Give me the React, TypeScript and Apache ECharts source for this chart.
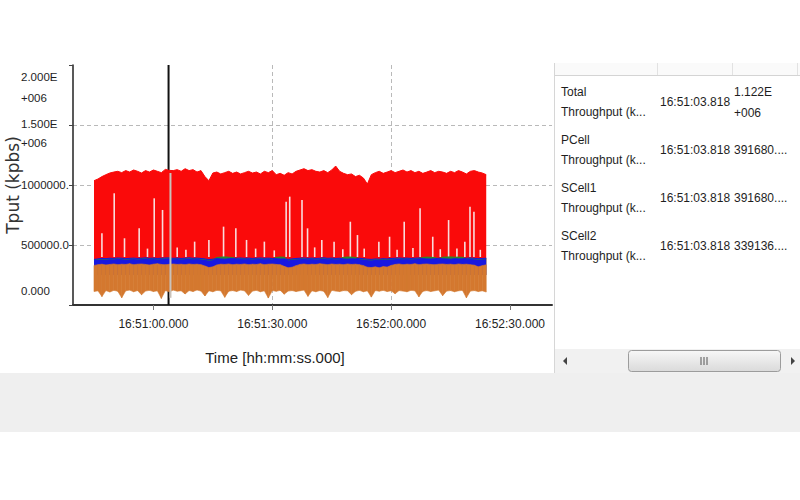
import React, { useEffect, useRef } from "react";
import * as echarts from "echarts";

// ---------- data ----------
const sampleStart = "16:50:45";
const sampleStepSec = 1;

// Total Throughput (kbps / 1000) – red
const totalTputK = [
  1036, 1050, 1070, 1086, 1100, 1108, 1114, 1103, 1120, 1108,
  1125, 1114, 1100, 1120, 1108, 1125, 1114, 1103, 1130, 1122,
  1120, 1128, 1114, 1136, 1120, 1128, 1108, 1120, 1070, 1036,
  1100, 1108, 1092, 1103, 1114, 1097, 1108, 1092, 1103, 1114,
  1100, 1108, 1092, 1114, 1103, 1120, 1086, 1097, 1081, 1103,
  1092, 1114, 1125, 1136, 1120, 1128, 1114, 1108, 1120, 1103,
  1125, 1158, 1114, 1097, 1086, 1092, 1070, 1081, 1058, 1008,
  1086, 1103, 1114, 1097, 1108, 1120, 1103, 1114, 1125, 1108,
  1120, 1103, 1114, 1097, 1108, 1120, 1103, 1114, 1108, 1097,
  1114, 1103, 1120, 1108, 1092, 1114, 1120, 1108, 1100, 1086,
];
// PCell Throughput – blue
const pcellTputK = [
  380, 384, 388, 386, 390, 388, 392, 390, 386, 389,
  391, 388, 390, 393, 389, 391, 388, 390, 392, 392,
  389, 391, 388, 390, 393, 389, 391, 388, 384, 378,
  382, 386, 384, 382, 385, 388, 390, 392, 389, 391,
  388, 390, 392, 389, 391, 388, 386, 383, 384, 380,
  384, 388, 390, 392, 389, 391, 388, 390, 393, 389,
  391, 388, 390, 384, 382, 385, 384, 390, 386, 382,
  380, 384, 382, 386, 384, 388, 390, 392, 389, 391,
  388, 390, 392, 386, 384, 383, 385, 390, 385, 384,
  382, 386, 384, 385, 390, 392, 389, 386, 388, 390,
];
// SCell1 Throughput – green
const scell1TputK = [
  378, 380, 384, 382, 386, 384, 388, 386, 382, 385,
  387, 384, 386, 389, 385, 387, 384, 386, 388, 392,
  385, 387, 384, 386, 389, 385, 387, 384, 380, 374,
  378, 396, 399, 401, 398, 395, 386, 388, 385, 387,
  384, 386, 388, 385, 387, 384, 396, 400, 398, 376,
  380, 384, 386, 388, 385, 387, 384, 386, 389, 385,
  387, 384, 386, 397, 400, 399, 396, 386, 382, 378,
  376, 380, 378, 382, 380, 384, 386, 388, 385, 387,
  384, 386, 388, 396, 399, 398, 395, 386, 398, 400,
  401, 398, 399, 397, 386, 388, 385, 382, 384, 386,
];
// SCell2 Throughput – orange (upper edge and ragged lower edge)
const scell2TputK = [
  330, 336, 340, 334, 338, 342, 336, 340, 338, 344,
  336, 340, 342, 338, 334, 340, 344, 338, 336, 339,
  342, 338, 340, 336, 342, 338, 340, 336, 325, 312,
  318, 334, 340, 338, 342, 336, 340, 338, 342, 336,
  340, 338, 344, 336, 340, 342, 338, 336, 322, 310,
  315, 328, 338, 342, 336, 340, 338, 344, 340, 336,
  342, 338, 340, 336, 342, 338, 340, 336, 328, 315,
  312, 318, 310, 320, 316, 330, 338, 342, 336, 340,
  338, 344, 336, 340, 342, 338, 336, 340, 342, 338,
  340, 336, 342, 338, 340, 336, 332, 318, 328, 335,
];
const scell2LowK = [
  112, 118, 70, 120, 108, 122, 115, 60, 118, 124,
  110, 120, 85, 116, 122, 112, 118, 55, 120, 110,
  124, 115, 118, 92, 120, 112, 125, 116, 75, 118,
  110, 122, 118, 64, 115, 120, 112, 124, 118, 80,
  116, 122, 110, 118, 58, 120, 114, 122, 90, 116,
  120, 112, 118, 124, 72, 118, 110, 120, 115, 62,
  122, 116, 112, 120, 118, 86, 114, 122, 110, 118,
  66, 120, 115, 122, 112, 118, 94, 120, 116, 110,
  122, 118, 68, 114, 120, 112, 118, 124, 78, 116,
  120, 110, 118, 122, 60, 116, 120, 112, 118, 108,
];
// light gaps seen inside the red band: [time, top (k)]
const totalGapsK: [string, number][] = [
  ["16:50:47.0", 598], ["16:50:50.1", 931], ["16:50:52.7", 556], ["16:50:56.4", 639],
  ["16:50:58.5", 470], ["16:51:00.2", 889], ["16:51:02.3", 792], ["16:51:06.0", 480],
  ["16:51:08.2", 460], ["16:51:10.4", 528], ["16:51:14.0", 542], ["16:51:17.7", 653],
  ["16:51:20.8", 639], ["16:51:23.5", 542], ["16:51:25.8", 470], ["16:51:28.0", 528],
  ["16:51:30.5", 455], ["16:51:33.5", 861], ["16:51:34.4", 903], ["16:51:37.5", 875],
  ["16:51:38.9", 639], ["16:51:40.7", 480], ["16:51:42.5", 542], ["16:51:45.6", 528],
  ["16:51:47.8", 465], ["16:51:49.7", 694], ["16:51:51.5", 583], ["16:51:53.2", 470],
  ["16:51:56.9", 528], ["16:51:59.6", 569], ["16:52:01.5", 460], ["16:52:03.3", 694],
  ["16:52:05.5", 475], ["16:52:07.3", 806], ["16:52:10.5", 569], ["16:52:12.4", 465],
  ["16:52:14.5", 708], ["16:52:16.6", 470], ["16:52:18.6", 528], ["16:52:19.9", 819],
  ["16:52:20.9", 778], ["16:52:22.5", 460],
];
const gapBaseK = 400;
const cursorTime = "16:51:03.818";
const cursorSampleK: [string, number, number] = ["16:51:04.300", 60, 1100];

const xMinTime = "16:50:39.700";
const xMaxTime = "16:52:40.600";
const xTickTimes = ["16:51:00.000", "16:51:30.000", "16:52:00.000", "16:52:30.000"];
const yMax = 2000000;
const yInterval = 500000;
const yTickLabels = ["0.000", "500000.0", "1000000.", "1.500E\n+006", "2.000E\n+006"];
const xAxisName = "Time [hh:mm:ss.000]";
const yAxisName = "Tput (kpbs)";

const tableNames = [
  "Total\nThroughput (k...",
  "PCell\nThroughput (k...",
  "SCell1\nThroughput (k...",
  "SCell2\nThroughput (k...",
];
const tableTimes = ["16:51:03.818", "16:51:03.818", "16:51:03.818", "16:51:03.818"];
const tableValues = ["1.122E\n+006", "391680....", "391680....", "339136...."];

// ---------- helpers ----------
const FONT = "'Liberation Sans', Arial, sans-serif";
const K = 1000;

function toMs(t: string): number {
  const [h, m, s] = t.split(":");
  const sec = parseFloat(s);
  const whole = Math.floor(sec);
  const ms = Math.round((sec - whole) * 1000);
  return new Date(2024, 0, 1, +h, +m, whole, ms).getTime();
}
function pad(n: number, w = 2) {
  return String(n).padStart(w, "0");
}
function fmtTime(v: number) {
  const d = new Date(Math.round(v));
  return `${pad(d.getHours())}:${pad(d.getMinutes())}:${pad(d.getSeconds())}.${pad(d.getMilliseconds(), 3)}`;
}

export default function App() {
  const ref = useRef<HTMLDivElement>(null);

  useEffect(() => {
    if (!ref.current) return;
    const chart = echarts.init(ref.current, undefined, { renderer: "svg" });

    const t0 = toMs(sampleStart);
    const times = totalTputK.map((_, i) => t0 + i * sampleStepSec * 1000);
    const red = times.map((t, i) => [t, totalTputK[i] * K]);
    const blue = times.map((t, i) => [t, pcellTputK[i] * K]);
    const green = times.map((t, i) => [t, scell1TputK[i] * K]);
    // orange band segments: [t, low, high, tNext, lowNext, highNext]
    const orange = times.slice(0, -1).map((t, i) => [
      t, scell2LowK[i] * K, scell2TputK[i] * K,
      times[i + 1], scell2LowK[i + 1] * K, scell2TputK[i + 1] * K,
    ]);
    const gaps = totalGapsK.map(([t, top]) => [toMs(t), gapBaseK * K, top * K]);
    const cursor = [[toMs(cursorTime), 0, yMax]];
    const sample = [[toMs(cursorSampleK[0]), cursorSampleK[1] * K, cursorSampleK[2] * K]];
    const xTicks = xTickTimes.map(toMs);

    const vline = (color: string, width: number) => (params: any, api: any) => {
      const a = api.coord([api.value(0), api.value(1)]);
      const b = api.coord([api.value(0), api.value(2)]);
      return {
        type: "line",
        shape: { x1: a[0], y1: a[1], x2: b[0], y2: b[1] },
        style: { stroke: color, lineWidth: width },
      };
    };
    const band = (color: string) => (params: any, api: any) => {
      const p1 = api.coord([api.value(0), api.value(1)]);
      const p2 = api.coord([api.value(0), api.value(2)]);
      const p3 = api.coord([api.value(3), api.value(5)]);
      const p4 = api.coord([api.value(3), api.value(4)]);
      return {
        type: "polygon",
        shape: { points: [p1, p2, p3, p4] },
        style: { fill: color, stroke: color, lineWidth: 0.6 },
      };
    };

    const graphic: any[] = [];
    // grey band under the panels
    graphic.push({ type: "rect", shape: { x: 0, y: 373, width: 800, height: 59 }, style: { fill: "#efefef" }, silent: true });
    // table panel
    graphic.push({ type: "line", shape: { x1: 554.5, y1: 63, x2: 554.5, y2: 373 }, style: { stroke: "#d6d6d6", lineWidth: 1 } });
    graphic.push({ type: "rect", shape: { x: 555, y: 63, width: 245, height: 12 }, style: { fill: "#fafafa" } });
    graphic.push({ type: "line", shape: { x1: 555, y1: 75.5, x2: 800, y2: 75.5 }, style: { stroke: "#d4d4d4", lineWidth: 1 } });
    [657, 732, 797].forEach((x) =>
      graphic.push({ type: "line", shape: { x1: x + 0.5, y1: 63, x2: x + 0.5, y2: 75 }, style: { stroke: "#e2e2e2", lineWidth: 1 } })
    );
    const rowCenters = [102, 150, 198, 246];
    tableNames.forEach((name, i) => {
      const cy = rowCenters[i];
      graphic.push({
        type: "text", x: 561, y: cy,
        style: { text: name, font: `12px ${FONT}`, fill: "#1e1e1e", lineHeight: 20, verticalAlign: "middle", align: "left" },
      });
      graphic.push({
        type: "text", x: 660, y: cy,
        style: { text: tableTimes[i], font: `12px ${FONT}`, fill: "#1e1e1e", verticalAlign: "middle", align: "left" },
      });
      graphic.push({
        type: "text", x: 734, y: cy,
        style: { text: tableValues[i], font: `12px ${FONT}`, fill: "#1e1e1e", lineHeight: 21, verticalAlign: "middle", align: "left" },
      });
    });
    // scroll bar
    graphic.push({ type: "rect", shape: { x: 555, y: 349, width: 245, height: 24 }, style: { fill: "#f1f1f1" } });
    graphic.push({ type: "polygon", shape: { points: [[563, 361], [567, 357], [567, 365]] }, style: { fill: "#444" } });
    graphic.push({ type: "polygon", shape: { points: [[795, 361], [791, 357], [791, 365]] }, style: { fill: "#444" } });
    graphic.push({
      type: "rect", shape: { x: 628.5, y: 350.5, width: 152, height: 21, r: 3 },
      style: {
        fill: new echarts.graphic.LinearGradient(0, 0, 0, 1, [
          { offset: 0, color: "#f7f7f7" },
          { offset: 1, color: "#dadada" },
        ]),
        stroke: "#9c9c9c", lineWidth: 1,
      },
    });
    [701, 704, 707].forEach((x) =>
      graphic.push({ type: "line", shape: { x1: x, y1: 357, x2: x, y2: 365 }, style: { stroke: "#555", lineWidth: 1 } })
    );

    const option: any = {
      animation: false,
      backgroundColor: "#ffffff",
      grid: { left: 73, right: 248, top: 65, bottom: 195, containLabel: false, outerBoundsMode: "none" },
      xAxis: {
        type: "value",
        min: toMs(xMinTime),
        max: toMs(xMaxTime),
        scale: true,
        name: xAxisName,
        nameLocation: "middle",
        nameGap: 45,
        nameMoveOverlap: false,
        nameTextStyle: { fontFamily: FONT, fontSize: 15, color: "#222", padding: [0, 75, 0, 0] },
        axisLine: { show: true, onZero: false, lineStyle: { color: "#333", width: 2 } },
        axisTick: { show: true, length: 5, customValues: xTicks, lineStyle: { color: "#777", width: 1 } },
        axisLabel: {
          show: true,
          customValues: xTicks,
          margin: 13,
          fontFamily: FONT,
          fontSize: 12,
          color: "#1e1e1e",
          hideOverlap: false,
          formatter: (v: number) => fmtTime(v),
        },
        splitLine: { show: true, showMinLine: false, showMaxLine: false, lineStyle: { type: [4, 3], color: "#b9b9b9", width: 1 } },
        minorTick: { show: false },
      },
      yAxis: {
        type: "value",
        min: 0,
        max: yMax,
        interval: yInterval,
        name: yAxisName,
        nameLocation: "middle",
        nameGap: 52,
        nameMoveOverlap: false,
        nameTextStyle: { fontFamily: "'DejaVu Sans', sans-serif", fontSize: 17, color: "#333" },
        axisLine: { show: true, lineStyle: { color: "#222", width: 1.5 } },
        axisTick: { show: true, length: 4, lineStyle: { color: "#444" } },
        splitLine: {
          show: true,
          showMinLine: false,
          showMaxLine: false,
          lineStyle: { type: [4, 3], color: "#b9b9b9", width: 1 },
        },
        axisLabel: {
          margin: 52,
          align: "left",
          color: "#1e1e1e",
          fontFamily: FONT,
          fontSize: 11,
          showMinLabel: true,
          showMaxLabel: true,
          hideOverlap: false,
          formatter: (v: number) => {
            const idx = Math.round(v / yInterval);
            const lab = yTickLabels[idx] ?? "";
            const lines = lab.split("\n");
            if (idx === 0) return `{n|${lines[0]}}\n{c| }`;
            if (lines.length === 2) {
              if (idx === yTickLabels.length - 1) return `{s| }\n{t|${lines[0]}}\n{u|${lines[1]}}`;
              return `{p|${lines[0]}}\n{u|${lines[1]}}`;
            }
            return `{n|${lines[0]}}`;
          },
          rich: {
            n: { fontFamily: FONT, fontSize: 11.5, lineHeight: 19, color: "#1e1e1e" },
            c: { fontSize: 11, lineHeight: 28 },
            s: { fontSize: 11, lineHeight: 26 },
            t: { fontFamily: FONT, fontSize: 11.5, lineHeight: 39, color: "#1e1e1e" },
            p: { fontFamily: FONT, fontSize: 11.5, lineHeight: 36, color: "#1e1e1e" },
            u: { fontFamily: FONT, fontSize: 11.5, lineHeight: 2, color: "#1e1e1e" },
          },
        },
      },
      series: [
        {
          name: "Cursor",
          type: "custom",
          z: 1,
          silent: true,
          renderItem: vline("#111111", 2),
          encode: { x: 0, y: [1, 2] },
          data: cursor,
        },
        {
          name: "Total Throughput",
          type: "line",
          z: 2,
          symbol: "none",
          silent: true,
          lineStyle: { color: "#fa0a0a", width: 1 },
          areaStyle: { color: "#fa0a0a", opacity: 1, origin: 250000 },
          data: red,
        },
        {
          name: "Total gaps",
          type: "custom",
          z: 2,
          silent: true,
          renderItem: vline("#f8dcdc", 1.6),
          encode: { x: 0, y: [1, 2] },
          data: gaps,
        },
        {
          name: "SCell1 Throughput",
          type: "line",
          z: 2,
          symbol: "none",
          silent: true,
          lineStyle: { color: "#2b8a2b", width: 1 },
          areaStyle: { color: "#2b8a2b", opacity: 1, origin: 250000 },
          data: green,
        },
        {
          name: "PCell Throughput",
          type: "line",
          z: 2,
          symbol: "none",
          silent: true,
          lineStyle: { color: "#1818e0", width: 1 },
          areaStyle: { color: "#1818e0", opacity: 1, origin: 250000 },
          data: blue,
        },
        {
          name: "SCell2 Throughput",
          type: "custom",
          z: 2,
          silent: true,
          renderItem: band("#d4782f"),
          encode: { x: [0, 3], y: [1, 2, 4, 5] },
          data: orange,
        },
        {
          name: "Cursor sample",
          type: "custom",
          z: 3,
          silent: true,
          renderItem: vline("#c9c2bb", 2),
          encode: { x: 0, y: [1, 2] },
          data: sample,
        },
      ],
      graphic,
    };

    chart.setOption(option);
    return () => chart.dispose();
  }, []);

  return (
    <div
      ref={ref}
      style={{ position: "absolute", left: 0, top: 0, width: 800, height: 500, background: "#fff" }}
    />
  );
}
